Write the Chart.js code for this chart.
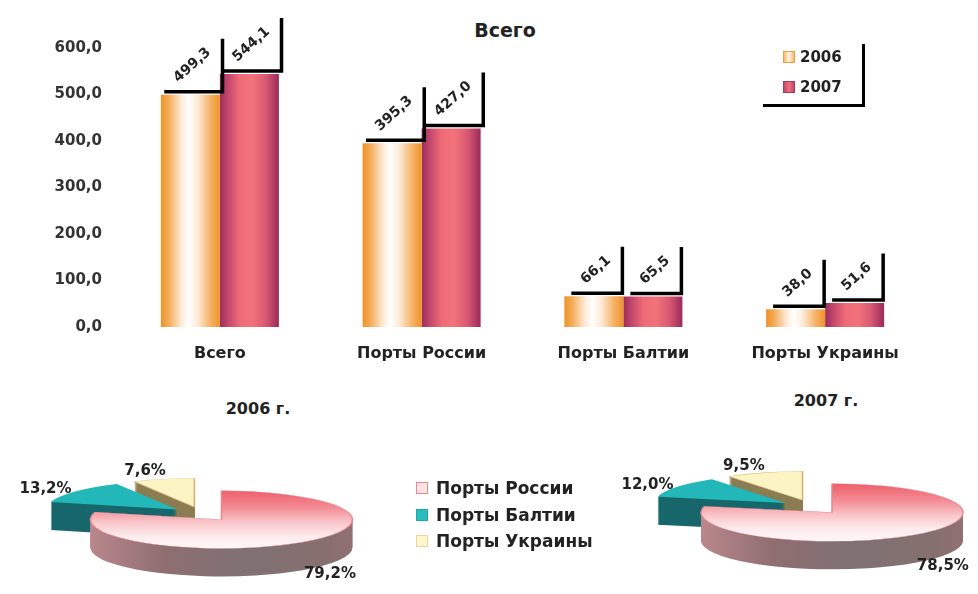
<!DOCTYPE html>
<html lang="ru">
<head>
<meta charset="utf-8">
<title>Грузооборот портов</title>
<script src="https://cdn.jsdelivr.net/npm/chart.js@4.4.1/dist/chart.umd.min.js"></script>
<style>
  html, body { margin: 0; padding: 0; background: #fff; }
  body {
    width: 978px; height: 594px; position: relative; overflow: hidden;
    font-family: "DejaVu Sans", sans-serif; font-weight: bold; color: #222;
  }
  canvas { position: absolute; }
  .txt { position: absolute; transform: translate(-50%, -50%); white-space: nowrap; }
  #barLegend {
    position: absolute; left: 763px; top: 44px; width: 99px; height: 60px;
    border-right: 3.5px solid #000; border-bottom: 3.5px solid #000;
  }
  .row { position: absolute; display: flex; align-items: center; white-space: nowrap; transform: translateY(-50%); }
  .sw { box-sizing: border-box; border: 1px solid; }
</style>
</head>
<body>
<div class="txt" id="barTitle" style="left:505px; top:30px; font-size:19px;"></div>
<canvas id="bars" width="978" height="380" style="left:0; top:0;"></canvas>
<div id="barLegend"></div>
<div class="txt" id="title06" style="left:258px; top:408px; font-size:16px;"></div>
<div class="txt" id="title07" style="left:826px; top:400px; font-size:16px;"></div>
<canvas id="pie06" width="400" height="180" style="left:2px; top:424px;"></canvas>
<canvas id="pie07" width="500" height="180" style="left:562px; top:417px;"></canvas>
<div id="pieLegend"></div>

<script>
// ---- data ----
const barTitle = 'Всего';
const categories = ['Всего', 'Порты России', 'Порты Балтии', 'Порты Украины'];
const years = ['2006', '2007'];
const volume2006 = [499.3, 395.3, 66.1, 38.0];
const volume2007 = [544.1, 427.0, 65.5, 51.6];
const axisMax = 600;
const axisStep = 100;

const portGroups = ['Порты России', 'Порты Балтии', 'Порты Украины'];
const share2006 = [79.2, 13.2, 7.6];
const share2007 = [78.5, 12.0, 9.5];
const pieTitles = ['2006 г.', '2007 г.'];

// ---- helpers ----
const FONT = '"DejaVu Sans", sans-serif';
const comma = (v, d = 1) => v.toFixed(d).replace('.', ',');

// horizontal shading of the bars: orange/white for 2006, plum/salmon for 2007
const barStops = [
  [[0, '#ee9326'], [0.14, '#f4ad5c'], [0.34, '#fde9d4'], [0.47, '#ffffff'], [0.62, '#fdebd8'], [0.85, '#f6b062'], [1, '#ef9428']],
  [[0, '#9c2c5c'], [0.14, '#c2476c'], [0.34, '#ef6b77'], [0.55, '#f3737a'], [0.78, '#d85872'], [1, '#9a2a5a']]
];
function barFill(c, stops) {
  const el = c.element;
  if (!el || !isFinite(el.x) || !el.width) return stops[3][1];
  const g = c.chart.ctx.createLinearGradient(el.x - el.width / 2, 0, el.x + el.width / 2, 0);
  stops.forEach(([o, col]) => g.addColorStop(o, col));
  return g;
}

// value labels: rotated text inside a box with a heavy bottom/right frame
const calloutLabels = {
  id: 'calloutLabels',
  afterDatasetsDraw(chart) {
    const ctx = chart.ctx;
    const ang = 42 * Math.PI / 180;
    const h = 14;
    ctx.save();
    ctx.font = 'bold 14px ' + FONT;
    chart.data.datasets.forEach((ds, i) => {
      chart.getDatasetMeta(i).data.forEach((bar, j) => {
        const text = comma(ds.data[j]);
        const w = ctx.measureText(text).width;
        const bw = w * Math.cos(ang) + h * Math.sin(ang) + 16;
        const bh = w * Math.sin(ang) + h * Math.cos(ang) + 13;
        const cx = bar.x + 3, bottom = bar.y - 3;
        const left = cx - bw / 2, right = cx + bw / 2, top = bottom - bh;
        ctx.strokeStyle = '#000';
        ctx.lineWidth = 3.5;
        ctx.lineJoin = 'miter';
        ctx.beginPath();
        ctx.moveTo(left, bottom);
        ctx.lineTo(right, bottom);
        ctx.lineTo(right, top);
        ctx.stroke();
        ctx.save();
        ctx.translate(cx - 1, bottom - bh / 2);
        ctx.rotate(-ang);
        ctx.fillStyle = '#222';
        ctx.textAlign = 'center';
        ctx.textBaseline = 'middle';
        ctx.fillText(text, 0, 0);
        ctx.restore();
      });
    });
    ctx.restore();
  }
};

// ---- bar chart ----
document.getElementById('barTitle').textContent = barTitle;
const barChart = new Chart(document.getElementById('bars'), {
  type: 'bar',
  data: {
    labels: categories,
    datasets: [
      { label: years[0], data: volume2006, backgroundColor: c => barFill(c, barStops[0]), borderWidth: 0 },
      { label: years[1], data: volume2007, backgroundColor: c => barFill(c, barStops[1]), borderWidth: 0 }
    ]
  },
  options: {
    responsive: false,
    animation: false,
    events: [],
    layout: { padding: { top: 48, right: 52, left: 0, bottom: 0 } },
    datasets: { bar: { barPercentage: 1, categoryPercentage: 0.585 } },
    plugins: { legend: { display: false }, tooltip: { enabled: false } },
    scales: {
      x: {
        grid: { display: false, drawTicks: false },
        border: { display: false },
        ticks: { color: '#222', padding: 17, font: { family: FONT, size: 16, weight: 'bold' } },
        afterFit: s => { s.height = 53; }
      },
      y: {
        min: 0, max: axisMax,
        grid: { display: false, drawTicks: false },
        border: { display: false },
        ticks: {
          stepSize: axisStep, color: '#333', padding: 17,
          font: { family: FONT, size: 15, weight: 'bold' },
          callback: v => comma(v)
        },
        afterFit: s => { s.width = 119; }
      }
    }
  },
  plugins: [calloutLabels]
});
barChart.update();

// legend for the years
const yearSwatches = [
  'border-color:#eea040; background:linear-gradient(90deg,#f7b96c,#fff6ea 50%,#f7b96c);',
  'border-color:#a8385e; background:linear-gradient(90deg,#c2476c,#ef6f7a 50%,#c2476c);'
];
const barLegend = document.getElementById('barLegend');
years.forEach((y, i) => {
  const row = document.createElement('div');
  row.className = 'row';
  row.style.cssText = `left:20px; top:${13 + i * 30}px; font-size:15px;`;
  row.innerHTML = `<span class="sw" style="width:12px;height:12px;margin-right:5px;${yearSwatches[i]}"></span><span>${y}</span>`;
  barLegend.appendChild(row);
});

// ---- 3D pies ----
const pieRadius = 131;
const pieTopColors = ['#f7b3b8', '#22b7b9', '#fdf4c4'];
const pieBorderColors = ['#e8858d', '#22b7b9', '#d4b070'];
const pieBorderWidths = [1.5, 0, 1.5];

const pie3d = {
  id: 'pie3d',
  beforeDatasetsDraw(chart, args, o) {
    const ctx = chart.ctx;
    const arcs = chart.getDatasetMeta(0).data;
    const cx = arcs[0].x, cy = arcs[0].y, r = arcs[0].outerRadius;
    const k = o.squash;
    const shift = arc => {
      const m = (arc.startAngle + arc.endAngle) / 2;
      return { m, dx: Math.cos(m) * o.explode, dy: Math.sin(m) * o.explode };
    };
    const paint = (arc, opts, dx, dy) => {
      const p = Object.create(arc);
      p.options = Object.assign({}, arc.options, { offset: 0, spacing: 0 }, opts);
      ctx.save();
      ctx.translate(dx, dy);
      p.draw(ctx);
      ctx.restore();
    };
    const sides = o.sideColors.map(s => {
      if (typeof s === 'string') return s;
      const g = ctx.createLinearGradient(cx - r, 0, cx + r + o.explode, 0);
      s.forEach(([off, col]) => g.addColorStop(off, col));
      return g;
    });

    ctx.save();
    ctx.translate(0, cy);
    ctx.scale(1, k);
    ctx.translate(0, -cy);
    // extruded walls, deepest layer first
    for (let d = o.depth; d >= 1; d--) {
      arcs.forEach((arc, i) => {
        const s = shift(arc);
        paint(arc, { backgroundColor: sides[i], borderWidth: 0 }, s.dx, s.dy + d / k);
      });
    }
    // top faces
    const topGrad = ctx.createLinearGradient(0, cy - r, 0, cy + r);
    [[0, '#ef5f6b'], [0.3, '#f38d95'], [0.55, '#f9c6ca'], [0.78, '#fdeaec'], [1, '#fff8f8']]
      .forEach(([off, col]) => topGrad.addColorStop(off, col));
    arcs.forEach((arc, i) => {
      const s = shift(arc);
      paint(arc, i === 0 ? { backgroundColor: topGrad } : {}, s.dx, s.dy);
    });
    ctx.restore();

    // percentage labels just outside the rim, along each slice's middle direction
    const values = chart.data.datasets[0].data;
    const fh = 15, gap = 4;
    ctx.save();
    ctx.font = 'bold ' + fh + 'px ' + FONT;
    ctx.fillStyle = '#222';
    ctx.textAlign = 'center';
    ctx.textBaseline = 'middle';
    arcs.forEach((arc, i) => {
      const m = (arc.startAngle + arc.endAngle) / 2;
      const cos = Math.cos(m), sin = Math.sin(m);
      const reach = r + o.explode;
      const px = cx + cos * reach;
      const py = cy + sin * reach * k + (sin > 0 ? o.depth : 0);
      const n = Math.hypot(cos, sin * k);
      const ux = cos / n, uy = sin * k / n;
      const text = comma(values[i]) + '%';
      const w = ctx.measureText(text).width;
      ctx.fillText(text, px + ux * (w / 2 + gap), py + uy * (fh / 2 + gap));
    });
    ctx.restore();
    return false;
  }
};

const pieSideColors = [
  [[0, '#b9878c'], [0.25, '#8f6e71'], [0.5, '#7f7173'], [0.8, '#86706f'], [1, '#a06f76']],
  '#17676b',
  '#8c7d52'
];

function makePie(id, values) {
  return new Chart(document.getElementById(id), {
    type: 'pie',
    data: {
      labels: portGroups,
      datasets: [{
        data: values,
        radius: pieRadius,
        backgroundColor: pieTopColors,
        borderColor: pieBorderColors,
        borderWidth: pieBorderWidths
      }]
    },
    options: {
      responsive: false,
      animation: false,
      events: [],
      layout: { padding: 0 },
      plugins: {
        legend: { display: false },
        tooltip: { enabled: false },
        pie3d: { squash: 0.22, depth: 28, explode: 32, sideColors: pieSideColors }
      }
    },
    plugins: [pie3d]
  });
}
document.getElementById('title06').textContent = pieTitles[0];
document.getElementById('title07').textContent = pieTitles[1];
makePie('pie06', share2006);
makePie('pie07', share2007);

// legend for the port groups
const groupSwatches = [
  'border-color:#e48a92; background:#fde2e4;',
  'border-color:#1fa9ab; background:#2bbcbe;',
  'border-color:#eed49c; background:#fdf6cf;'
];
const pieLegend = document.getElementById('pieLegend');
portGroups.forEach((g, i) => {
  const row = document.createElement('div');
  row.className = 'row';
  row.style.cssText = `left:416px; top:${488 + i * 26.5}px; font-size:17px;`;
  row.innerHTML = `<span class="sw" style="width:12px;height:12px;margin-right:8px;${groupSwatches[i]}"></span><span>${g}</span>`;
  pieLegend.appendChild(row);
});
</script>
</body>
</html>
